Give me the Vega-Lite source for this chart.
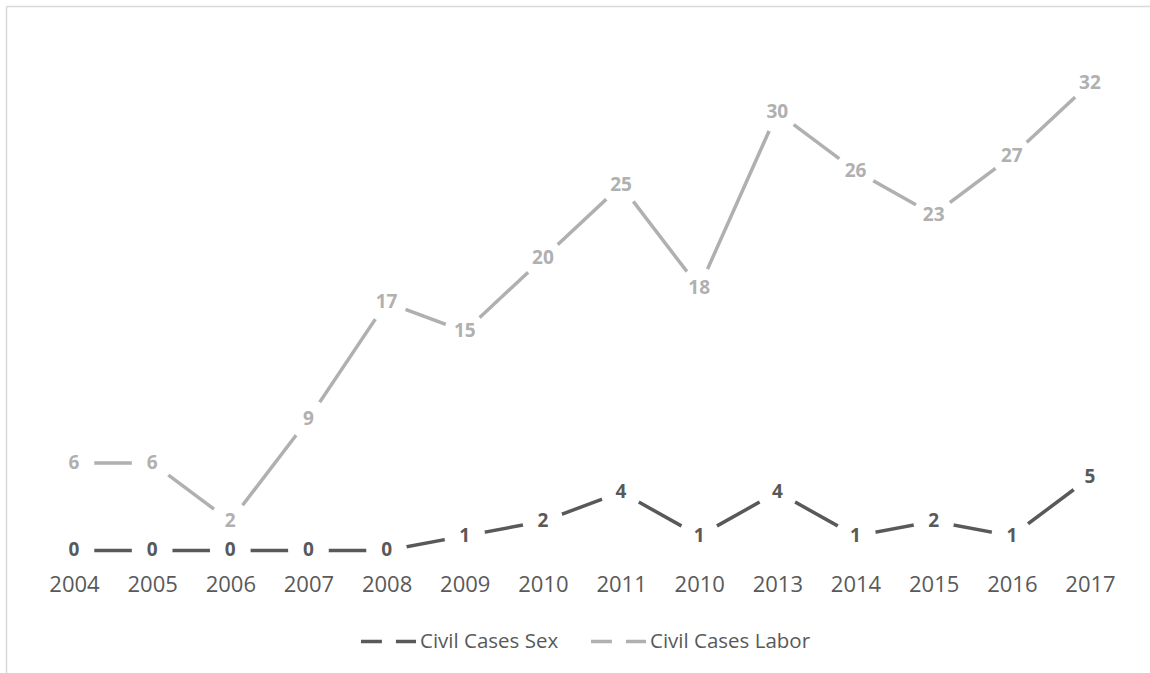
{
  "$schema": "https://vega.github.io/schema/vega-lite/v6.json",
  "autosize": {"type": "none"},
  "padding": {"left": 6, "top": 6, "right": 0, "bottom": 0},
  "width": 1144,
  "height": 667,
  "background": "white",
  "config": {
    "view": {"stroke": null},
    "font": "Open Sans"
  },
  "datasets": {
    "cases": [
      {"i": 0, "year": "2004", "series": "Civil Cases Sex", "value": 0},
      {"i": 1, "year": "2005", "series": "Civil Cases Sex", "value": 0},
      {"i": 2, "year": "2006", "series": "Civil Cases Sex", "value": 0},
      {"i": 3, "year": "2007", "series": "Civil Cases Sex", "value": 0},
      {"i": 4, "year": "2008", "series": "Civil Cases Sex", "value": 0},
      {"i": 5, "year": "2009", "series": "Civil Cases Sex", "value": 1},
      {"i": 6, "year": "2010", "series": "Civil Cases Sex", "value": 2},
      {"i": 7, "year": "2011", "series": "Civil Cases Sex", "value": 4},
      {"i": 8, "year": "2010", "series": "Civil Cases Sex", "value": 1},
      {"i": 9, "year": "2013", "series": "Civil Cases Sex", "value": 4},
      {"i": 10, "year": "2014", "series": "Civil Cases Sex", "value": 1},
      {"i": 11, "year": "2015", "series": "Civil Cases Sex", "value": 2},
      {"i": 12, "year": "2016", "series": "Civil Cases Sex", "value": 1},
      {"i": 13, "year": "2017", "series": "Civil Cases Sex", "value": 5},
      {"i": 0, "year": "2004", "series": "Civil Cases Labor", "value": 6},
      {"i": 1, "year": "2005", "series": "Civil Cases Labor", "value": 6},
      {"i": 2, "year": "2006", "series": "Civil Cases Labor", "value": 2},
      {"i": 3, "year": "2007", "series": "Civil Cases Labor", "value": 9},
      {"i": 4, "year": "2008", "series": "Civil Cases Labor", "value": 17},
      {"i": 5, "year": "2009", "series": "Civil Cases Labor", "value": 15},
      {"i": 6, "year": "2010", "series": "Civil Cases Labor", "value": 20},
      {"i": 7, "year": "2011", "series": "Civil Cases Labor", "value": 25},
      {"i": 8, "year": "2010", "series": "Civil Cases Labor", "value": 18},
      {"i": 9, "year": "2013", "series": "Civil Cases Labor", "value": 30},
      {"i": 10, "year": "2014", "series": "Civil Cases Labor", "value": 26},
      {"i": 11, "year": "2015", "series": "Civil Cases Labor", "value": 23},
      {"i": 12, "year": "2016", "series": "Civil Cases Labor", "value": 27},
      {"i": 13, "year": "2017", "series": "Civil Cases Labor", "value": 32}
    ]
  },
  "data": {"name": "cases"},
  "encoding": {
    "x": {
      "field": "i",
      "type": "quantitative",
      "scale": {"domain": [-0.87, 13.768], "nice": false, "zero": false},
      "axis": {
        "title": null,
        "values": [0, 1, 2, 3, 4, 5, 6, 7, 8, 9, 10, 11, 12, 13],
        "labelExpr": "['2004','2005','2006','2007','2008','2009','2010','2011','2010','2013','2014','2015','2016','2017'][datum.value]",
        "domain": false,
        "ticks": false,
        "tickSize": 0,
        "grid": false,
        "offset": -123,
        "labelPadding": 34,
        "labelBaseline": "middle",
        "labelFontSize": 22,
        "labelColor": "#595959",
        "labelFont": "Open Sans",
        "labelFlush": false,
        "labelOverlap": false
      }
    },
    "y": {
      "field": "value",
      "type": "quantitative",
      "scale": {"domain": [-8.39, 37.29], "nice": false, "zero": false},
      "axis": {
        "title": null,
        "labels": false,
        "ticks": false,
        "domain": true,
        "domainColor": "#d9d9d9",
        "domainWidth": 1.5,
        "grid": true,
        "gridColor": "#d9d9d9",
        "gridWidth": 1.5,
        "values": [37.29]
      }
    }
  },
  "layer": [
    {
      "data": {"values": [{}]},
      "mark": {"type": "rule", "color": "#d9d9d9", "strokeWidth": 1.3},
      "encoding": {
        "x": {"datum": -0.5, "type": "quantitative"},
        "x2": {"datum": 13.5},
        "y": {"datum": 0, "type": "quantitative"}
      }
    },
    {
      "mark": {"type": "line", "strokeWidth": 3.5, "strokeCap": "butt"},
      "encoding": {
        "stroke": {
          "field": "series",
          "type": "nominal",
          "scale": {"domain": ["Civil Cases Sex", "Civil Cases Labor"], "range": ["#595959", "#b0b0b0"]},
          "legend": {
            "title": null,
            "orient": "none",
            "direction": "horizontal",
            "legendX": 353,
            "legendY": 606,
            "padding": 0,
            "symbolType": "M-1,0H-0.24M0.27,0H1",
            "symbolSize": 3025,
            "symbolStrokeWidth": 3.5,
            "labelOffset": 2,
            "columnPadding": 25,
            "labelFontSize": 20.5,
            "labelLimit": 400,
            "labelColor": "#595959",
            "labelFont": "Open Sans"
          }
        },
        "detail": {"field": "series"}
      }
    },
    {
      "mark": {"type": "point", "shape": "circle", "filled": true, "color": "white", "opacity": 1, "size": 1660, "strokeWidth": 0}
    },
    {
      "mark": {"type": "text", "fontSize": 19, "fontWeight": "bold", "font": "Open Sans", "baseline": "middle", "align": "center"},
      "encoding": {
        "text": {"field": "value", "type": "quantitative"},
        "color": {
          "field": "series",
          "type": "nominal",
          "scale": {"domain": ["Civil Cases Sex", "Civil Cases Labor"], "range": ["#595959", "#b0b0b0"]},
          "legend": null
        }
      }
    }
  ]
}
